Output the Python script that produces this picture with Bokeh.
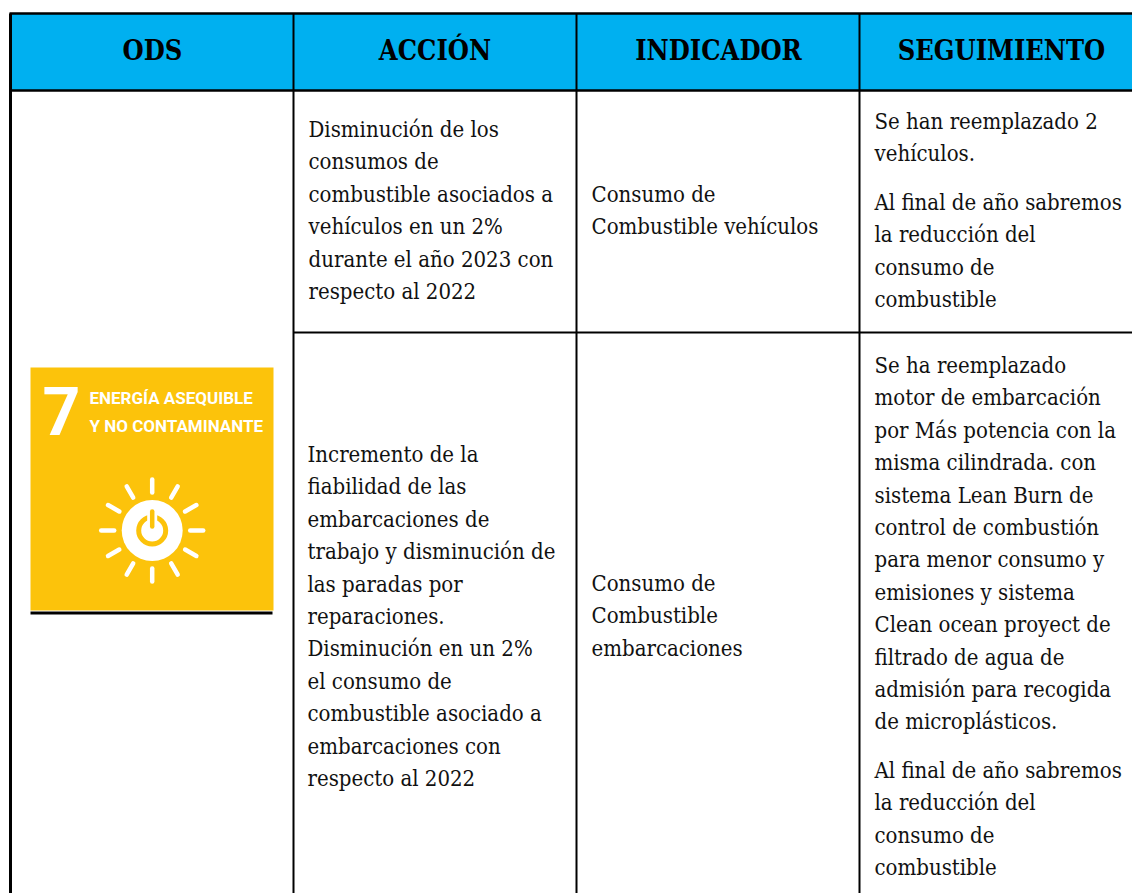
import math
from bokeh.plotting import figure
from bokeh.models import Range1d
from bokeh.core.properties import value
from bokeh.embed import file_html
from bokeh.resources import INLINE

headers = ["ODS", "ACCIÓN", "INDICADOR", "SEGUIMIENTO"]
header_x = [152, 434.5, 718, 1001]
col_lines = [10, 293, 576, 859]
row_lines = [13, 90, 332]
goal_number = "7"
goal_title = ["ENERGÍA ASEQUIBLE", "Y NO CONTAMINANTE"]

accion_1 = ["Disminución de los", "consumos de", "combustible asociados a", "vehículos en un 2%",
            "durante el año 2023 con", "respecto al 2022"]
indicador_1 = ["Consumo de", "Combustible vehículos"]
seguimiento_1a = ["Se han reemplazado 2", "vehículos."]
seguimiento_1b = ["Al final de año sabremos", "la reducción del", "consumo de", "combustible"]
accion_2 = ["Incremento de la", "fiabilidad de las", "embarcaciones de", "trabajo y disminución de",
            "las paradas por", "reparaciones.", "Disminución en un 2%", "el consumo de",
            "combustible asociado a", "embarcaciones con", "respecto al 2022"]
indicador_2 = ["Consumo de", "Combustible", "embarcaciones"]
seguimiento_2a = ["Se ha reemplazado", "motor de embarcación", "por Más potencia con la",
                  "misma cilindrada. con", "sistema Lean Burn de", "control de combustión",
                  "para menor consumo y", "emisiones y sistema", "Clean ocean proyect de",
                  "filtrado de agua de", "admisión para recogida", "de microplásticos."]
seguimiento_2b = ["Al final de año sabremos", "la reducción del", "consumo de", "combustible"]

W, H = 1132, 893
p = figure(width=W, height=H, x_range=Range1d(0, 1132), y_range=Range1d(893, 0),
           output_backend="svg", toolbar_location=None, min_border=0)
p.axis.visible = False
p.grid.visible = False
p.outline_line_color = None

SERIF = value("DejaVu Serif Condensed")

# header band
p.quad(left=10, right=1132, top=13, bottom=90, fill_color="#00B0F0", line_color=None)
# grid lines
p.segment(x0=col_lines[:1], y0=[13], x1=col_lines[:1], y1=[893], line_color="black", line_width=3)
p.segment(x0=col_lines[1:], y0=[13] * 3, x1=col_lines[1:], y1=[893] * 3, line_color="black", line_width=2)
p.segment(x0=[9], y0=[row_lines[0]], x1=[1132], y1=[row_lines[0]], line_color="black", line_width=2.5)
p.segment(x0=[9], y0=[row_lines[1]], x1=[1132], y1=[row_lines[1]], line_color="black", line_width=2.5)
p.segment(x0=[293], y0=[row_lines[2]], x1=[1132], y1=[row_lines[2]], line_color="black", line_width=2)

# header text
p.text(x=header_x, y=[50] * 4, text=headers, text_align="center", text_baseline="middle",
       text_font=SERIF, text_font_style="bold", text_font_size="27px", text_color="#000000")

BODY = "22px"
def block(lines, x, y0, pitch=32.4):
    p.text(x=[x] * len(lines), y=[y0 + i * pitch for i in range(len(lines))], text=lines,
           text_align="left", text_baseline="middle", text_font=SERIF,
           text_font_size=BODY, text_color="#111111")

block(accion_1, 308, 129)
block(indicador_1, 591, 194)
block(seguimiento_1a, 874, 121)
block(seguimiento_1b, 874, 202)
block(accion_2, 307, 454)
block(indicador_2, 591, 583)
block(seguimiento_2a, 874, 365)
block(seguimiento_2b, 874, 770)

# SDG 7 tile
p.quad(left=30, right=273, top=367, bottom=610, fill_color="#FCC30B", line_color=None)
p.segment(x0=[30], y0=[612.5], x1=[272], y1=[612.5], line_color="black", line_width=3)
p.text(x=[61], y=[410], text=[goal_number], text_align="center", text_baseline="middle",
       text_font=value("Roboto"), text_font_style="bold", text_font_size="66px", text_color="white")
p.text(x=[89, 89], y=[397, 425], text=goal_title, text_align="left", text_baseline="middle",
       text_font=value("Roboto"), text_font_style="bold", text_font_size="17px", text_color="white")

cx, cy = 151.7, 530
ang = [math.radians(a) for a in range(0, 360, 30)]
p.segment(x0=[cx + 38 * math.cos(a) for a in ang], y0=[cy + 38 * math.sin(a) for a in ang],
          x1=[cx + 51 * math.cos(a) for a in ang], y1=[cy + 51 * math.sin(a) for a in ang],
          line_color="white", line_width=4.5, line_cap="round")
p.scatter(x=[cx], y=[cy], size=61, fill_color="white", line_color=None)
p.scatter(x=[cx], y=[cy], size=27, fill_color=None, line_color="#FCC30B", line_width=5)
p.segment(x0=[cx], y0=[cy - 22], x1=[cx], y1=[cy - 2], line_color="white", line_width=10)
p.segment(x0=[cx], y0=[cy - 19], x1=[cx], y1=[cy - 4], line_color="#FCC30B", line_width=4.5, line_cap="round")

open("out.html", "w").write(file_html(p, INLINE))
